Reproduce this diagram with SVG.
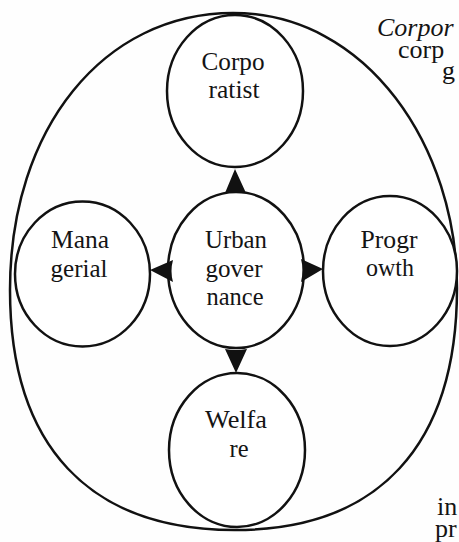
<svg xmlns="http://www.w3.org/2000/svg" width="459" height="542" viewBox="0 0 459 542">
<style>
.bg{fill:#fefefe}
.node{fill:#ffffff;stroke:#111;stroke-width:2.5}
.outer{fill:none;stroke:#111;stroke-width:2.5}
.lbl{font-family:"Liberation Serif","Times New Roman",serif;font-size:26px;fill:#141414;text-anchor:middle}
.page{font-family:"Liberation Serif","Times New Roman",serif;font-size:26px;fill:#141414}
.arrow{fill:#111;stroke:none}
</style>
<rect class="bg" x="0" y="0" width="459" height="542"/>
<g id="outer-boundary">
<path class="outer" d="M233,13 C368,13 457,148 457,288 C457,446 378,530 235,530 C89,530 10,446 10,290 C10,128 104,13 233,13 Z"/>
</g>
<g id="page-text">
<text class="page" x="377" y="36" font-style="italic" font-size="28">Corpor</text>
<text class="page" x="398" y="58" font-size="29">corp</text>
<text class="page" x="442" y="79">g</text>
<text class="page" x="437" y="515">in</text>
<text class="page" x="435" y="537">pr</text>
</g>
<g id="corporatist">
<ellipse class="node" cx="235" cy="91" rx="68" ry="76"/>
<text class="lbl" x="233" y="70" textLength="63" lengthAdjust="spacingAndGlyphs">Corpo</text>
<text class="lbl" x="234" y="98" textLength="51" lengthAdjust="spacingAndGlyphs">ratist</text>
</g>
<g id="managerial">
<ellipse class="node" cx="82.5" cy="274" rx="67.5" ry="72.5"/>
<text class="lbl" x="80" y="248" textLength="58" lengthAdjust="spacingAndGlyphs">Mana</text>
<text class="lbl" x="79" y="277" textLength="57" lengthAdjust="spacingAndGlyphs">gerial</text>
</g>
<g id="progrowth">
<ellipse class="node" cx="390" cy="271" rx="67" ry="75"/>
<text class="lbl" x="389" y="248" textLength="57" lengthAdjust="spacingAndGlyphs">Progr</text>
<text class="lbl" x="390" y="276" textLength="48" lengthAdjust="spacingAndGlyphs">owth</text>
</g>
<g id="welfare">
<ellipse class="node" cx="237" cy="450" rx="68" ry="77"/>
<text class="lbl" x="236" y="428" textLength="62" lengthAdjust="spacingAndGlyphs">Welfa</text>
<text class="lbl" x="239" y="457" textLength="19" lengthAdjust="spacingAndGlyphs">re</text>
</g>
<g id="urban-governance">
<ellipse class="node" cx="236" cy="270" rx="68" ry="78"/>
<text class="lbl" x="236" y="248" textLength="62" lengthAdjust="spacingAndGlyphs">Urban</text>
<text class="lbl" x="234" y="277" textLength="57" lengthAdjust="spacingAndGlyphs">gover</text>
<text class="lbl" x="235" y="305" textLength="57" lengthAdjust="spacingAndGlyphs">nance</text>
</g>
<g id="connectors">
<path class="arrow" d="M235,169 L246,193 Q236,191 225,193 Z"/>
<path class="arrow" d="M236,373 L225,349 Q236,351 247,349 Z"/>
<path class="arrow" d="M150,270 L173,260 Q170,271 173,282 Z"/>
<path class="arrow" d="M323,269 L301,259 Q304,270 301,282 Z"/>
</g>
</svg>
